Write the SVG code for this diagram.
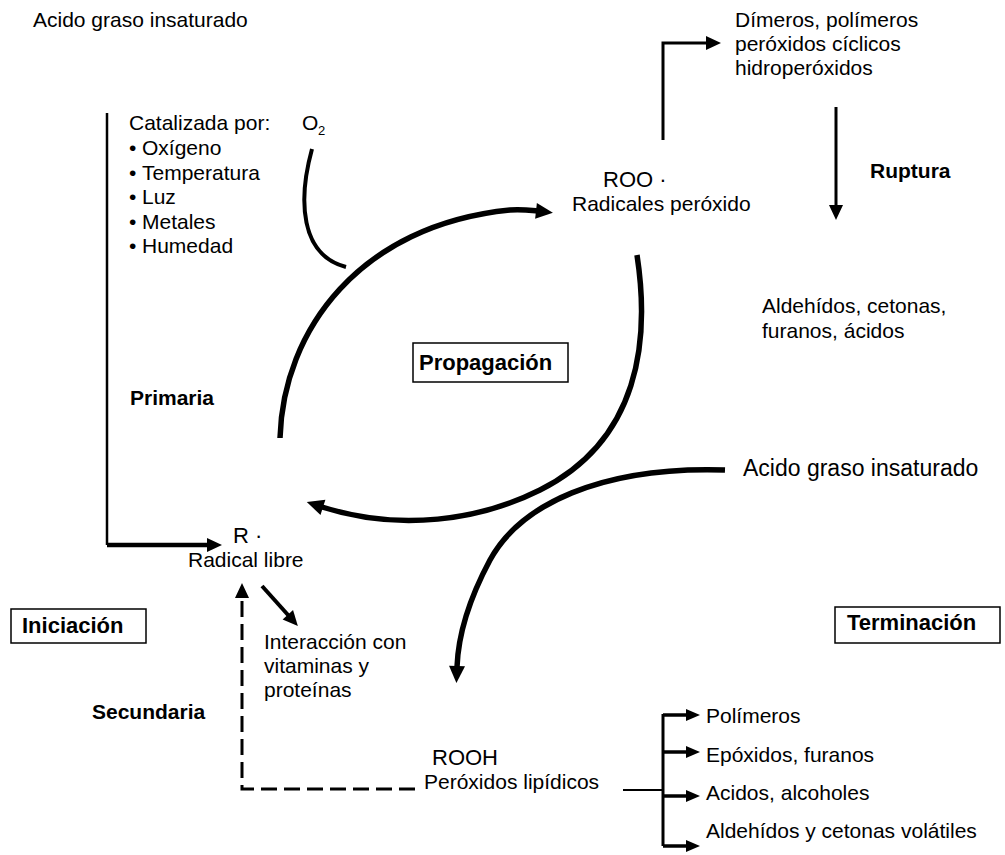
<svg xmlns="http://www.w3.org/2000/svg" width="1005" height="855" viewBox="0 0 1005 855">
<defs>
<style>
text{font-family:"Liberation Sans",Arial,sans-serif;font-size:21px;fill:#000}
.b{font-weight:bold}
.bx{font-weight:bold;font-size:22px}
.big{font-size:23px}
.r{font-size:22px}
.sub{font-size:13px}
.arc{fill:none;stroke:#000;stroke-width:5.5}
.ln{fill:none;stroke:#000;stroke-width:3.5}
.thin{fill:none;stroke:#000;stroke-width:2.5}
.dash{fill:none;stroke:#000;stroke-width:3;stroke-dasharray:16 7}
.box{fill:#fff;stroke:#000;stroke-width:1.5}
</style>
<marker id="ah" markerUnits="userSpaceOnUse" markerWidth="20" markerHeight="20" refX="1" refY="8" orient="auto" overflow="visible"><path d="M0,0 L17,8 L0,16 z" fill="#000"/></marker>
<marker id="am" markerUnits="userSpaceOnUse" markerWidth="18" markerHeight="16" refX="1" refY="7" orient="auto" overflow="visible"><path d="M0,0 L15,7 L0,14 z" fill="#000"/></marker>
<marker id="as" markerUnits="userSpaceOnUse" markerWidth="16" markerHeight="14" refX="1" refY="6" orient="auto" overflow="visible"><path d="M0,0 L14,6 L0,12 z" fill="#000"/></marker>
</defs>
<rect width="1005" height="855" fill="#fff"/>
<g id="connectors">
<path class="arc" d="M280,438 C283,330 360,225 510,210 C520,209 528,210 537,211" marker-end="url(#ah)"/>
<path class="arc" d="M637,255 C650,340 640,440 540,490 C480,520 400,532 322,507" marker-end="url(#ah)"/>
<path class="arc" d="M725,470 C600,466 520,505 490,560 C467,603 458,640 457,667" marker-end="url(#ah)"/>
<path fill="none" stroke="#000" stroke-width="4" d="M312,149 C298,200 300,255 346,267"/>
<path class="thin" d="M107,113 L107,545"/>
<path fill="none" stroke="#000" stroke-width="4.5" d="M107,545 L208,545" marker-end="url(#am)"/>
<path fill="none" stroke="#000" stroke-width="3" d="M663,140 L663,43 L707,43" marker-end="url(#am)"/>
<path fill="none" stroke="#000" stroke-width="3" d="M836,107 L836,206" marker-end="url(#am)"/>
<path fill="none" stroke="#000" stroke-width="4" d="M262,586 L288.5,615.5" marker-end="url(#am)"/>
<path class="dash" d="M415,789 L242,789 L242,597" marker-end="url(#am)"/>
<path fill="none" stroke="#000" stroke-width="2" d="M623,790 L663,790"/>
<path fill="none" stroke="#000" stroke-width="3" d="M663,714 L663,846"/>
<path fill="none" stroke="#000" stroke-width="3.5" d="M663,715 L687,715" marker-end="url(#as)"/>
<path fill="none" stroke="#000" stroke-width="3.5" d="M663,752 L687,752" marker-end="url(#as)"/>
<path fill="none" stroke="#000" stroke-width="3.5" d="M663,796 L687,796" marker-end="url(#as)"/>
<path fill="none" stroke="#000" stroke-width="3.5" d="M663,846 L687,846" marker-end="url(#as)"/>
</g>
<g id="acido-top"><text x="33" y="27">Acido graso insaturado</text></g>
<g id="dimeros"><text x="735" y="27">Dímeros, polímeros</text><text x="735" y="51">peróxidos cíclicos</text><text x="735" y="75">hidroperóxidos</text></g>
<g id="catalizada">
<text x="129" y="130">Catalizada por:</text>
<text y="155"><tspan x="129">•</tspan><tspan x="142">Oxígeno</tspan></text>
<text y="180"><tspan x="129">•</tspan><tspan x="142">Temperatura</tspan></text>
<text y="204"><tspan x="129">•</tspan><tspan x="142">Luz</tspan></text>
<text y="229"><tspan x="129">•</tspan><tspan x="142">Metales</tspan></text>
<text y="253"><tspan x="129">•</tspan><tspan x="142">Humedad</tspan></text>
</g>
<g id="o2"><text x="302" y="130">O<tspan class="sub" x="318" y="135">2</tspan></text></g>
<g id="ruptura"><text class="b" x="870" y="178">Ruptura</text></g>
<g id="roo"><text class="r" x="603" y="187">ROO ·</text><text x="572" y="211">Radicales peróxido</text></g>
<g id="aldehidos"><text x="762" y="313">Aldehídos, cetonas,</text><text x="762" y="338">furanos, ácidos</text></g>
<g id="propagacion"><rect class="box" x="413" y="343" width="155" height="39"/><text class="bx" x="419" y="370">Propagación</text></g>
<g id="primaria"><text class="b" x="130" y="405">Primaria</text></g>
<g id="acido-right"><text class="big" x="743" y="476">Acido graso insaturado</text></g>
<g id="radical"><text class="r" x="233" y="543">R ·</text><text x="188" y="567">Radical libre</text></g>
<g id="iniciacion"><rect class="box" x="11" y="609" width="135" height="34"/><text class="bx" x="22" y="633">Iniciación</text></g>
<g id="terminacion"><rect class="box" x="835" y="607" width="165" height="36"/><text class="bx" x="847" y="630">Terminación</text></g>
<g id="interaccion"><text x="264" y="649">Interacción con</text><text x="264" y="673">vitaminas y</text><text x="264" y="697">proteínas</text></g>
<g id="secundaria"><text class="b" x="92" y="719">Secundaria</text></g>
<g id="rooh"><text class="r" x="432" y="765">ROOH</text><text x="424" y="789">Peróxidos lipídicos</text></g>
<g id="productos">
<text x="706" y="723">Polímeros</text>
<text x="706" y="762">Epóxidos, furanos</text>
<text x="706" y="800">Acidos, alcoholes</text>
<text x="706" y="838">Aldehídos y cetonas volátiles</text>
</g>
</svg>
